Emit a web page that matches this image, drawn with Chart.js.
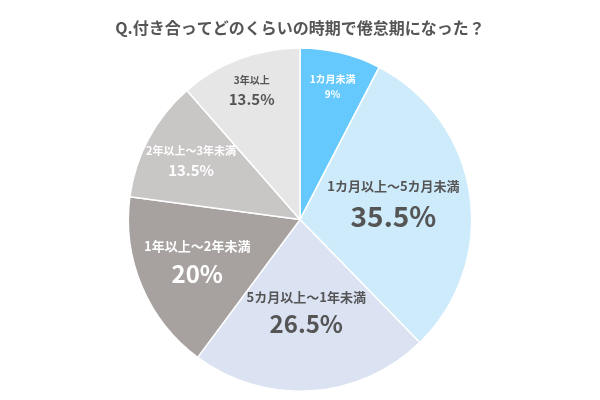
<!DOCTYPE html>
<html><head><meta charset="utf-8">
<script src="https://cdn.jsdelivr.net/npm/chart.js@4"></script>
<style>body{margin:0;background:#fff}#wrap{width:600px;height:400px}</style>
</head><body><div id="wrap"><canvas id="c" width="600" height="400"></canvas></div>
<script>
const labels = ['1カ月未満','1カ月以上～5カ月未満','5カ月以上～1年未満','1年以上～2年未満','2年以上～3年未満','3年以上'];
const values = [9, 35.5, 26.5, 20, 13.5, 13.5];
const valueText = ['9%','35.5%','26.5%','20%','13.5%','13.5%'];
const colors = ['#66c9fd','#cdebfb','#dbe3f3','#a7a19f','#c9c6c6','#e6e6e6'];

// label placement and sizes per slice
const radFactor = [0.8, 0.55, 0.55, 0.65, 0.72, 0.8];
const smallSize = [10, 13, 13, 13, 11, 10];
const bigSize = [10, 28, 24, 24, 15, 15];
const txtColor = ['#fff','#555','#555','#fff','#fff','#555'];

const labelPlugin = {
  id: 'labelPlugin',
  afterDatasetsDraw(chart) {
    const ctx = chart.ctx;
    chart.getDatasetMeta(0).data.forEach((arc, i) => {
      const p = arc.getProps(['x','y','startAngle','endAngle','outerRadius']);
      const a = (p.startAngle + p.endAngle) / 2;
      const r = p.outerRadius * radFactor[i];
      const x = p.x + Math.cos(a) * r, y = p.y + Math.sin(a) * r;
      ctx.save();
      ctx.fillStyle = txtColor[i];
      ctx.textAlign = 'center';
      ctx.textBaseline = 'middle';
      ctx.font = 'bold ' + smallSize[i] + 'px "Noto Sans CJK JP"';
      ctx.fillText(labels[i], x, y - bigSize[i] * 0.7);
      ctx.font = 'bold ' + bigSize[i] + 'px "Noto Sans CJK JP"';
      ctx.fillText(valueText[i], x, y + smallSize[i] * 0.8);
      ctx.restore();
    });
  }
};

new Chart(document.getElementById('c'), {
  type: 'pie',
  data: { labels: labels, datasets: [{ data: values, backgroundColor: colors, borderColor: '#fff', borderWidth: 1.5 }] },
  options: {
    responsive: false, animation: false,
    layout: { padding: { top: 10, bottom: 8 } },
    plugins: {
      legend: { display: false }, tooltip: { enabled: false },
      title: { display: true, text: 'Q.付き合ってどのくらいの時期で倦怠期になった？', color: '#555',
        font: { family: '"Noto Sans CJK JP"', size: 16, weight: 'bold' }, padding: { top: 8, bottom: 10 } }
    }
  },
  plugins: [labelPlugin]
});
</script></body></html>
